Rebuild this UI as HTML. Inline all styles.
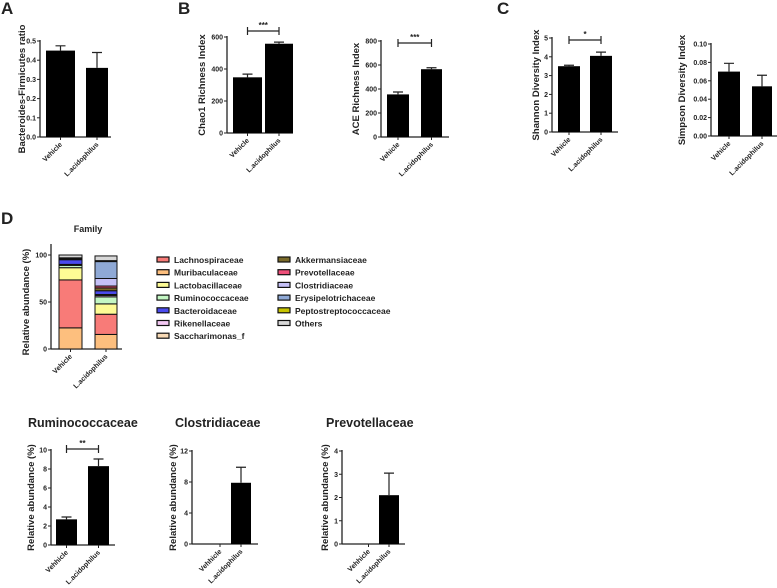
<!DOCTYPE html>
<html><head><meta charset="utf-8"><style>
body{margin:0;background:#fff;}
svg{display:block;font-family:"Liberation Sans",Arial,sans-serif;}
text{font-weight:bold;fill:#222;}
</style></head><body>
<svg id="fig" width="777" height="588" viewBox="0 0 777 588" xmlns="http://www.w3.org/2000/svg"></svg>
<script>
const groups = ["Vehicle", "L.acidophilus"];
const groupsBottom = ["Vehhicle", "L.acidophilus"];
const ratioValues = [0.45, 0.36];
const ratioErrors = [0.025, 0.08];
const ratioTicks = [0, 0.1, 0.2, 0.3, 0.4, 0.5];
const chao1Values = [348, 558];
const chao1Errors = [20, 10];
const chao1Ticks = [0, 200, 400, 600];
const aceValues = [355, 565];
const aceErrors = [20, 12];
const aceTicks = [0, 200, 400, 600, 800];
const shannonValues = [3.5, 4.05];
const shannonErrors = [0.05, 0.2];
const shannonTicks = [0, 1, 2, 3, 4, 5];
const simpsonValues = [0.070, 0.054];
const simpsonErrors = [0.009, 0.012];
const simpsonTicks = [0, 0.02, 0.04, 0.06, 0.08, 0.10];
const ruminoValues = [2.7, 8.3];
const ruminoErrors = [0.25, 0.75];
const ruminoTicks = [0, 2, 4, 6, 8, 10];
const clostrValues = [0, 7.9];
const clostrErrors = [0, 2];
const clostrTicks = [0, 4, 8, 12];
const prevoValues = [0, 2.1];
const prevoErrors = [0, 0.95];
const prevoTicks = [0, 1, 2, 3, 4];
const families = ["Muribaculaceae","Lachnospiraceae","Lactobacillaceae","Ruminococcaceae","Rikenellaceae","Saccharimonas_f","Bacteroidaceae","Akkermansiaceae","Prevotellaceae","Clostridiaceae","Erysipelotrichaceae","Peptostreptococcaceae","Others"];
const familyColors = ["#fdbf7e","#f87b78","#fdfb95","#c4f7c4","#f3c8f3","#f7d9b5","#4b4bee","#7a6a2a","#ef4f7a","#c5c0f7","#8fa9d6","#c7c400","#d8d8d8"];
const vehicleAbund = [22.5, 51, 13, 2.5, 0.5, 0.5, 5, 0.5, 0, 0.5, 1, 0, 3];
const lacidAbund = [15.5, 21.5, 11, 7.5, 1.5, 1, 4, 3, 2, 8, 18, 1, 5];
const familyTicks = [0, 50, 100];
const legendCol1 = ["Lachnospiraceae","Muribaculaceae","Lactobacillaceae","Ruminococcaceae","Bacteroidaceae","Rikenellaceae","Saccharimonas_f"];
const legendCol2 = ["Akkermansiaceae","Prevotellaceae","Clostridiaceae","Erysipelotrichaceae","Peptostreptococcaceae","Others"];

const svg = document.getElementById('fig');
const NS = "http://www.w3.org/2000/svg";
function mk(tag, attrs, parent){const e=document.createElementNS(NS,tag);for(const k in attrs)e.setAttribute(k,attrs[k]);(parent||svg).appendChild(e);return e;}
function txt(s,attrs,parent){const e=mk('text',attrs,parent);e.textContent=s;return e;}

function fmt(v,dec){return dec>0?v.toFixed(dec):String(v);}

function barChart(o){
  const g=mk('g',{});
  
  
  const max=o.ticks[o.ticks.length-1];
  const y=v=>o.y0-(v/max)*(o.y0-o.yTop);
  mk('line',{x1:o.ax,y1:o.yTop-1,x2:o.ax,y2:o.y0,stroke:'#222','stroke-width':1.3},g);
  mk('line',{x1:o.ax,y1:o.y0,x2:o.axEnd,y2:o.y0,stroke:'#222','stroke-width':1.3},g);
  o.ticks.forEach(t=>{
    mk('line',{x1:o.ax-3,y1:y(t),x2:o.ax,y2:y(t),stroke:'#222','stroke-width':1},g);
    const tl=txt(fmt(t,o.dec),{x:o.ax-4,y:y(t)+2.5,'font-size':7,'text-anchor':'end'},g);
    
    
  });
  o.values.forEach((v,i)=>{
    const x1=o.bars[i][0],x2=o.bars[i][1],cx=(x1+x2)/2;
    if(v>0){
      const r=mk('rect',{x:x1,y:y(v),width:x2-x1,height:o.y0-y(v),fill:'#000'},g);
      
      
      const e=o.errors[i];
      if(e>0){
        const eb=mk('path',{d:`M${cx},${y(v)} V${y(v+e)} M${cx-5},${y(v+e)} H${cx+5}`,stroke:'#222','stroke-width':1.2,fill:'none'},g);
        
        
      }
    }
    mk('line',{x1:cx,y1:o.y0,x2:cx,y2:o.y0+3,stroke:'#222','stroke-width':1},g);
    const xl=txt(o.labels[i],{x:cx+2,y:o.y0+8,'font-size':7,'text-anchor':'end',transform:`rotate(-45 ${cx+2} ${o.y0+8})`},g);
    
    
  });
  const tc=(o.y0+o.yTop)/2;
  const yt=txt(o.title,{x:o.tx,y:tc,'font-size':o.tfs||9,'text-anchor':'middle',transform:`rotate(-90 ${o.tx} ${tc})`},g);
  
  
  if(o.sig){
    const c0=(o.bars[0][0]+o.bars[0][1])/2,c1=(o.bars[1][0]+o.bars[1][1])/2;
    const s=mk('path',{d:`M${c0},${o.sig.y-4} V${o.sig.y+4} M${c0},${o.sig.y} H${c1} M${c1},${o.sig.y-4} V${o.sig.y+4}`,stroke:'#222','stroke-width':1.2,fill:'none'},g);
    
    
    const st=txt(o.sig.t,{x:(c0+c1)/2,y:o.sig.y-3,'font-size':8,'text-anchor':'middle'},g);
    
    
  }
}

function panelLetter(s,x,y){const e=txt(s,{x:x,y:y,'font-size':17,'font-weight':'bold'});}
panelLetter('A',1,14);panelLetter('B',178,14);panelLetter('C',497,14);panelLetter('D',1,224);

barChart({name:'bf-ratio-chart',ax:40,axEnd:111,y0:137,yTop:41,ticks:ratioTicks,dec:1,values:ratioValues,errors:ratioErrors,bars:[[46,75],[86,108]],labels:groups,title:'Bacteroides-Firmicutes ratio',tx:25,tfs:9.5});
barChart({name:'chao1-chart',ax:227,axEnd:293,y0:133,yTop:37,ticks:chao1Ticks,dec:0,values:chao1Values,errors:chao1Errors,bars:[[233,262],[265,293]],labels:groups,title:'Chao1 Richness Index',tx:205,tfs:9.5,sig:{y:31,t:'***'}});
barChart({name:'ace-chart',ax:381,axEnd:449,y0:137,yTop:41,ticks:aceTicks,dec:0,values:aceValues,errors:aceErrors,bars:[[387,409],[421,442]],labels:groups,title:'ACE Richness Index',tx:359,tfs:9.5,sig:{y:43,t:'***'}});
barChart({name:'shannon-chart',ax:552,axEnd:618,y0:132,yTop:38,ticks:shannonTicks,dec:0,values:shannonValues,errors:shannonErrors,bars:[[558,580],[590,612]],labels:groups,title:'Shannon Diversity Index',tx:539,tfs:9.5,sig:{y:40,t:'*'}});
barChart({name:'simpson-chart',ax:711,axEnd:777,y0:136,yTop:44,ticks:simpsonTicks,dec:2,values:simpsonValues,errors:simpsonErrors,bars:[[718,740],[752,772]],labels:groups,title:'Simpson Diversity Index',tx:685,tfs:9.5});
barChart({name:'ruminococcaceae-chart',ax:51,axEnd:115,y0:545,yTop:450,ticks:ruminoTicks,dec:0,values:ruminoValues,errors:ruminoErrors,bars:[[56,77],[88,109]],labels:groupsBottom,title:'Relative abundance (%)',tx:34,tfs:9.5,sig:{y:449,t:'**'}});
barChart({name:'clostridiaceae-chart',ax:192,axEnd:258,y0:544,yTop:451,ticks:clostrTicks,dec:0,values:clostrValues,errors:clostrErrors,bars:[[210,230],[231,251]],labels:groupsBottom,title:'Relative abundance (%)',tx:176,tfs:9.5});
barChart({name:'prevotellaceae-chart',ax:342,axEnd:405,y0:544,yTop:451,ticks:prevoTicks,dec:0,values:prevoValues,errors:prevoErrors,bars:[[359,378],[379,399]],labels:groupsBottom,title:'Relative abundance (%)',tx:328,tfs:9.5});

[['Ruminococcaceae',28],['Clostridiaceae',175],['Prevotellaceae',326]].forEach(p=>{
  const t=txt(p[0],{x:p[1],y:427,'font-size':12.5});
  
  
});

// stacked chart
(function(){
  const g=mk('g',{});
  
  
  const ax=51,y0=349,yTop=255,axEnd=122;
  const y=v=>y0-(v/100)*(y0-yTop);
  mk('line',{x1:ax,y1:244,x2:ax,y2:y0,stroke:'#222','stroke-width':1.3},g);
  mk('line',{x1:ax,y1:y0,x2:axEnd,y2:y0,stroke:'#222','stroke-width':1.3},g);
  familyTicks.forEach(t=>{
    mk('line',{x1:ax-3,y1:y(t),x2:ax,y2:y(t),stroke:'#222'},g);
    txt(String(t),{x:ax-4,y:y(t)+2.5,'font-size':7,'text-anchor':'end'},g);
  });
  const ft=txt('Family',{x:88,y:232,'font-size':9,'text-anchor':'middle'},g);
  
  
  const tc=(y0+yTop)/2;
  txt('Relative abundance (%)',{x:29,y:tc,'font-size':9.5,'text-anchor':'middle',transform:`rotate(-90 29 ${tc})`},g);
  [[vehicleAbund,59,82],[lacidAbund,95,117]].forEach((d,i)=>{
    let acc=0;
    d[0].forEach((v,j)=>{
      if(v<=0)return;
      const r=mk('rect',{x:d[1],y:y(acc+v),width:d[2]-d[1],height:y(acc)-y(acc+v),fill:familyColors[j],stroke:'#111','stroke-width':1},g);
      
      
      acc+=v;
    });
    const cx=(d[1]+d[2])/2;
    mk('line',{x1:cx,y1:y0,x2:cx,y2:y0+3,stroke:'#222'},g);
    txt(groups[i],{x:cx+2,y:y0+8,'font-size':7,'text-anchor':'end',transform:`rotate(-45 ${cx+2} ${y0+8})`},g);
  });
  const lg=mk('g',{});
  
  
  [[legendCol1,157],[legendCol2,278]].forEach(c=>{
    c[0].forEach((n,k)=>{
      const yy=260+k*12.7;
      const e=mk('g',{},lg);
      
      
      mk('rect',{x:c[1],y:yy-3,width:12,height:5,fill:familyColors[families.indexOf(n)],stroke:'#111','stroke-width':1.2},e);
      txt(n,{x:c[1]+17,y:yy+3,'font-size':8.5},e);
    });
  });
})();
</script>
</body></html>
